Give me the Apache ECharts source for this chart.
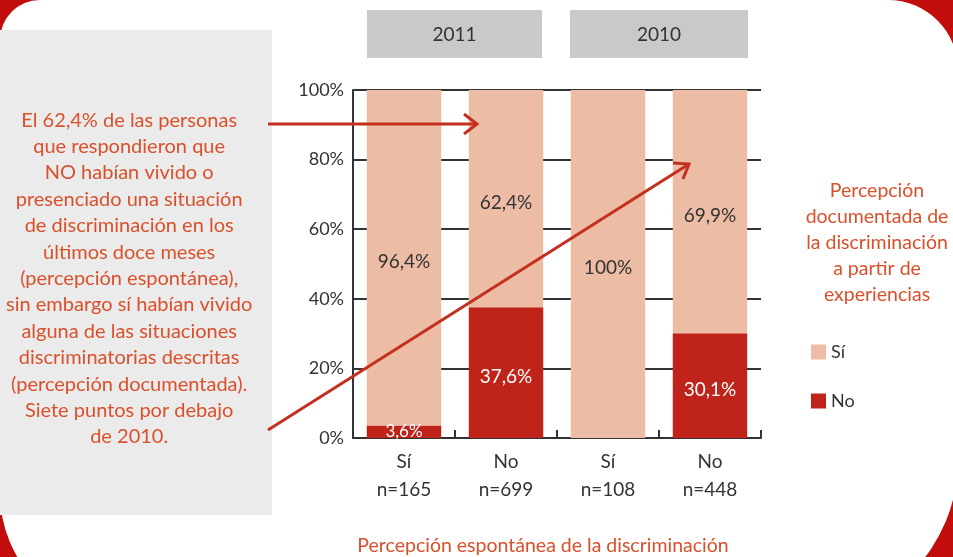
<!DOCTYPE html>
<html>
<head>
<meta charset="utf-8">
<script src="https://cdn.jsdelivr.net/npm/echarts@6/dist/echarts.min.js"></script>
<style>
  html, body { margin: 0; padding: 0; background: #c30d0d; overflow: hidden; }
  #chart { width: 953px; height: 557px; }
</style>
</head>
<body>
<div id="chart"></div>
<script>
// data
const answers = ['Sí', 'No', 'Sí', 'No']
const sampleSizes = [165, 699, 108, 448]
const years = ['2011', '2010']
const siValues = [96.4, 62.4, 100, 69.9]
const noValues = [3.6, 37.6, 0, 30.1]
const yTicks = [0, 20, 40, 60, 80, 100]

const categories = answers.map((a, i) => a + '\nn=' + sampleSizes[i])

const RED = '#c0231a'
const PEACH = '#ecbca5'
const NOTE = '#d9502a'
const FONT = 'Lato'

function pct(v) {
  if (!v) return ''
  return (Number.isInteger(v) ? String(v) : v.toFixed(1).replace('.', ',')) + '%'
}

const noteText = [
  'El 62,4% de las personas',
  'que respondieron que',
  'NO habían vivido o',
  'presenciado una situación',
  'de discriminación en los',
  'últimos doce meses',
  '(percepción espontánea),',
  'sin embargo sí habían vivido',
  'alguna de las situaciones',
  'discriminatorias descritas',
  '(percepción documentada).',
  'Siete puntos por debajo',
  'de 2010.'
].join('\n')

const arrowStyle = { stroke: '#c4301f', lineWidth: 3, fill: null }

// the thin 3,6% segment keeps its label centred, the rest sit a bit low like the original
const noData = noValues.map(v => v < 10 ? { value: v, label: { offset: [0, 0], fontSize: 17 } } : v)

const chart = echarts.init(document.getElementById('chart'))

chart.setOption({
  animation: false,
  backgroundColor: '#c30d0d',
  textStyle: { fontFamily: FONT },
  grid: { left: 353, right: 192, top: 90, bottom: 119, containLabel: false },
  xAxis: {
    type: 'category',
    data: categories,
    axisLine: { lineStyle: { color: '#333', width: 2 } },
    axisTick: { show: true, inside: true, length: 8, lineStyle: { color: '#333', width: 2 } },
    axisLabel: { color: '#333', fontSize: 19, lineHeight: 28, margin: 10, fontFamily: FONT }
  },
  yAxis: {
    type: 'value',
    min: 0,
    max: 100,
    interval: 20,
    axisLine: { show: true, lineStyle: { color: '#333', width: 2 } },
    axisTick: { show: false },
    splitLine: { lineStyle: { color: '#333', width: 2 } },
    axisLabel: { color: '#333', fontSize: 18, margin: 9, formatter: v => yTicks.includes(v) ? v + '%' : '', fontFamily: FONT }
  },
  legend: {
    orient: 'vertical',
    left: 806,
    top: 338,
    itemWidth: 15,
    itemHeight: 15,
    itemGap: 31,
    icon: 'rect',
    data: ['Sí', 'No'],
    textStyle: { color: '#333', fontSize: 18, fontFamily: FONT }
  },
  series: [
    {
      name: 'No',
      type: 'bar',
      stack: 'total',
      barWidth: '73%',
      data: noData,
      itemStyle: { color: RED },
      label: { show: true, position: 'inside', offset: [0, 4], color: '#fff', fontSize: 19, fontFamily: FONT, formatter: p => pct(p.value) }
    },
    {
      name: 'Sí',
      type: 'bar',
      stack: 'total',
      barWidth: '73%',
      data: siValues,
      itemStyle: { color: PEACH },
      label: { show: true, position: 'inside', offset: [0, 4], color: '#333', fontSize: 19, fontFamily: FONT, formatter: p => pct(p.value) }
    }
  ],
  graphic: [
    // white card on the red frame
    { type: 'rect', z: -20, silent: true, shape: { x: 0, y: 0, width: 958, height: 620, r: [40, 70, 160, 127] }, style: { fill: '#fff' } },
    // grey note box
    { type: 'rect', z: -19, silent: true, shape: { x: 0, y: 30, width: 272, height: 485 }, style: { fill: '#ebebeb' } },
    {
      type: 'text', z: 10, left: 6, top: 107,
      style: { text: noteText, fill: NOTE, font: '20px ' + FONT, lineHeight: 26.4, x: 130, textAlign: 'center' }
    },
    // year headers
    { type: 'rect', z: 10, shape: { x: 367, y: 10, width: 175, height: 48 }, style: { fill: '#c8c9cb' } },
    { type: 'rect', z: 10, shape: { x: 570, y: 10, width: 178, height: 48 }, style: { fill: '#c8c9cb' } },
    { type: 'text', z: 11, x: 454.5, y: 35, style: { text: years[0], fill: '#333', font: '19px ' + FONT, textAlign: 'center', textVerticalAlign: 'middle' } },
    { type: 'text', z: 11, x: 659, y: 35, style: { text: years[1], fill: '#333', font: '19px ' + FONT, textAlign: 'center', textVerticalAlign: 'middle' } },
    // legend title
    {
      type: 'text', z: 10, x: 877, y: 178,
      style: { text: 'Percepción\ndocumentada de\nla discriminación\na partir de\nexperiencias', fill: NOTE, font: '19.5px ' + FONT, lineHeight: 26, textAlign: 'center' }
    },
    // axis title
    {
      type: 'text', z: 10, x: 543, y: 536,
      style: { text: 'Percepción espontánea de la discriminación', fill: NOTE, font: '19.5px ' + FONT, textAlign: 'center' }
    },
    // arrows
    { type: 'polyline', z: 100, shape: { points: [[268, 124], [477, 124]] }, style: arrowStyle },
    { type: 'polyline', z: 100, shape: { points: [[464, 114], [477, 124], [464, 134]] }, style: arrowStyle },
    { type: 'polyline', z: 100, shape: { points: [[268, 430], [689, 164]] }, style: arrowStyle },
    { type: 'polyline', z: 100, shape: { points: [[673, 163], [689, 164], [683, 179]] }, style: arrowStyle }
  ]
})
</script>
</body>
</html>
